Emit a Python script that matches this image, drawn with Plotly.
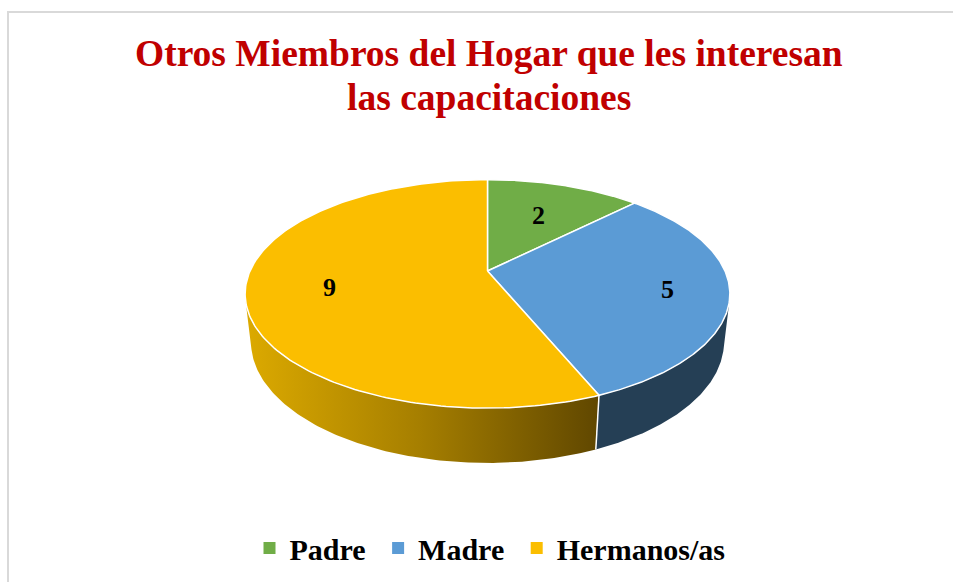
import numpy as np
import plotly.graph_objects as go

# ---- data -------------------------------------------------------------
categories = ["Padre", "Madre", "Hermanos/as"]
values = [2, 5, 9]

# ---- styling ----------------------------------------------------------
top_colors = ["#70ad47", "#5b9bd5", "#fbbe00"]
wall_colors = ["#3f6a28", "#253f55", None]          # None -> gradient wall
wall_gradient = [[0.0, "#dcaa00"], [0.5, "#a57e00"], [1.0, "#604700"]]
label_radius = [0.63, 0.75, 0.66]
FONT = "Liberation Serif, Times New Roman, serif"

W, H = 953, 582

# ---- 3-D projection of the pie (perspective camera) ---------------------
CX, CY = 487.5, 271.0        # screen position of the pie centre
ELEV = np.radians(27.5)      # camera elevation
DIST = 4.43                  # camera distance (pie radius = 1)
FOCAL = 1052.0
THICK = 0.23                 # pie thickness (radius units)
S, C = np.sin(ELEV), np.cos(ELEV)


def proj(theta_deg, r=1.0, z=0.0):
    """theta measured clockwise from 12 o'clock."""
    t = np.radians(np.asarray(theta_deg, dtype=float))
    X = r * np.sin(t)
    Y = r * np.cos(t)
    depth = Y * C - z * S + DIST
    u = FOCAL * X / depth
    v = FOCAL * (Y * S + z * C) / depth
    return CX + u, CY - v


total = float(sum(values))
bounds = np.concatenate([[0.0], np.cumsum(values) / total * 360.0])

# visible part of the cylinder wall (facing the camera)
th_lo = np.degrees(np.arccos(-1.0 / (DIST * C)))
th_hi = 360.0 - th_lo

fig = go.Figure()

# side walls
for i, cat in enumerate(categories):
    a0, a1 = max(bounds[i], th_lo), min(bounds[i + 1], th_hi)
    if a1 <= a0:
        continue
    arc = np.linspace(a0, a1, 120)
    xt, yt = proj(arc, 1.0, 0.0)
    xb, yb = proj(arc[::-1], 1.0, -THICK)
    xs = np.concatenate([xt, xb, xt[:1]])
    ys = np.concatenate([yt, yb, yt[:1]])
    kw = dict(fill="toself", mode="lines", line=dict(width=0),
              hoverinfo="skip", showlegend=False)
    if wall_colors[i] is None:
        kw["fillgradient"] = dict(type="horizontal", colorscale=wall_gradient)
    else:
        kw["fillcolor"] = wall_colors[i]
    fig.add_trace(go.Scatter(x=xs, y=ys, **kw))

# seams between slices on the wall
for b in bounds[1:-1]:
    if th_lo < b < th_hi:
        x0, y0 = proj(b, 1.0, 0.0)
        x1, y1 = proj(b, 1.0, -THICK)
        fig.add_trace(go.Scatter(x=[x0, x1], y=[y0, y1], mode="lines",
                                 line=dict(color="white", width=1.5),
                                 hoverinfo="skip", showlegend=False))

# top faces
for i, cat in enumerate(categories):
    arc = np.linspace(bounds[i], bounds[i + 1], 200)
    xa, ya = proj(arc, 1.0, 0.0)
    xs = np.concatenate([[CX], xa, [CX]])
    ys = np.concatenate([[CY], ya, [CY]])
    fig.add_trace(go.Scatter(x=xs, y=ys, fill="toself", mode="lines",
                             fillcolor=top_colors[i],
                             line=dict(color="white", width=1.5),
                             name=cat, hoverinfo="skip", showlegend=False))

# value labels
for i, v in enumerate(values):
    mid = (bounds[i] + bounds[i + 1]) / 2.0
    lx, ly = proj(mid, label_radius[i], 0.0)
    fig.add_annotation(x=lx, y=ly, text=f"<b>{v}</b>", showarrow=False,
                       font=dict(family=FONT, size=26, color="black"),
                       xanchor="center", yanchor="middle", yshift=-2)

# legend entries (a trailing no-break space widens the gap between items)
for k, (cat, col) in enumerate(zip(categories, top_colors)):
    label = cat + ("\u00a0" if k < len(categories) - 1 else "")
    fig.add_trace(go.Scatter(x=[None], y=[None], mode="markers", name=label,
                             marker=dict(symbol="square", size=9, color=col)))

# title (two lines)
fig.add_annotation(x=W / 2 + 12, y=53, text="<b>Otros Miembros del Hogar que les interesan</b>",
                   showarrow=False, xanchor="center", yanchor="middle",
                   font=dict(family=FONT, size=37.5, color="#c00000"))
fig.add_annotation(x=W / 2 + 12, y=97, text="<b>las capacitaciones</b>",
                   showarrow=False, xanchor="center", yanchor="middle",
                   font=dict(family=FONT, size=37.5, color="#c00000"))

# chart-area border
fig.add_shape(type="rect", xref="x", yref="y", x0=8, y0=12, x1=W + 10, y1=H + 10,
              line=dict(color="#d9d9d9", width=2), layer="below")

fig.update_layout(
    width=W, height=H,
    margin=dict(l=0, r=0, t=0, b=0),
    paper_bgcolor="white", plot_bgcolor="white",
    xaxis=dict(range=[0, W], visible=False, fixedrange=True),
    yaxis=dict(range=[H, 0], visible=False, fixedrange=True),
    showlegend=True,
    legend=dict(orientation="h", x=0.5 + 13.5 / W, xanchor="center", y=34 / H, yanchor="middle",
                font=dict(family=FONT, size=30, color="black", weight="bold"),
                itemsizing="constant", bgcolor="rgba(0,0,0,0)"),
)

fig.write_html("out.html")
